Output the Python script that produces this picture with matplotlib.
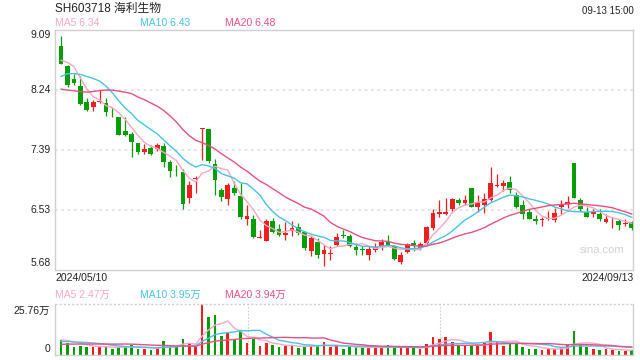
import numpy as np
import pandas as pd
import matplotlib
matplotlib.use('Agg')
import matplotlib.pyplot as plt

plt.rcParams['font.family'] = ['Liberation Sans', 'Noto Sans CJK SC', 'DejaVu Sans']

RED = '#f01e1e'
GREEN = '#089c08'
C_MA5 = '#f7a8c3'
C_MA10 = '#45c4e4'
C_MA20 = '#ea4f82'

# daily k-line, 2024/05/10 .. 2024/09/13
opens = [8.86, 8.58, 8.39, 8.29, 8.07, 8.00, 8.06, 8.05, 7.90, 7.85,
         7.65, 7.61, 7.48, 7.35, 7.41, 7.40, 7.44, 7.22, 7.09, 7.07,
         6.70, 6.98, 7.69, 7.68, 7.18, 6.81, 6.69, 6.85, 6.73, 6.41,
         6.41, 6.14, 6.09, 6.38, 6.26, 6.18, 6.23, 6.29, 6.22, 5.95,
         6.08, 5.91, 5.91, 6.03, 6.18, 6.17, 6.01, 5.97, 5.90, 5.97,
         6.02, 6.08, 6.02, 5.80, 5.93, 6.07, 5.99, 6.07, 6.28, 6.47,
         6.47, 6.54, 6.67, 6.63, 6.85, 6.58, 6.61, 6.68, 6.87, 6.88,
         6.93, 6.74, 6.60, 6.51, 6.41, 6.39, 6.40, 6.39, 6.58, 6.62,
         7.20, 6.67, 6.51, 6.48, 6.48, 6.36, 6.37, 6.37, 6.33, 6.36]
closes = [8.61, 8.31, 8.34, 8.04, 7.96, 8.07, 8.08, 7.93, 7.89, 7.60,
          7.60, 7.50, 7.36, 7.40, 7.33, 7.45, 7.22, 7.09, 7.08, 6.62,
          6.89, 6.99, 7.70, 7.23, 6.96, 6.72, 6.89, 6.77, 6.43, 6.45,
          6.15, 6.15, 6.37, 6.22, 6.18, 6.21, 6.28, 6.21, 5.99, 6.13,
          5.90, 5.96, 5.92, 6.15, 6.17, 6.02, 5.96, 5.96, 5.98, 6.01,
          6.08, 6.04, 5.84, 5.89, 6.05, 6.02, 6.05, 6.29, 6.49, 6.50,
          6.51, 6.69, 6.63, 6.68, 6.58, 6.65, 6.69, 6.92, 6.88, 6.92,
          6.81, 6.58, 6.47, 6.41, 6.37, 6.40, 6.41, 6.49, 6.62, 6.65,
          6.70, 6.54, 6.43, 6.50, 6.40, 6.40, 6.38, 6.32, 6.34, 6.28]
highs = [9.01, 8.59, 8.46, 8.43, 8.13, 8.09, 8.24, 8.12, 7.98, 7.86,
         7.86, 7.64, 7.49, 7.47, 7.45, 7.49, 7.49, 7.24, 7.17, 7.11,
         6.95, 7.01, 7.70, 7.68, 7.26, 6.85, 6.92, 6.94, 6.92, 6.60,
         6.46, 6.25, 6.41, 6.42, 6.33, 6.36, 6.37, 6.35, 6.24, 6.17,
         6.14, 6.04, 6.02, 6.20, 6.25, 6.19, 6.07, 6.02, 6.02, 6.07,
         6.12, 6.18, 6.03, 5.94, 6.07, 6.11, 6.08, 6.30, 6.54, 6.68,
         6.71, 6.70, 6.70, 6.75, 6.85, 6.74, 6.78, 7.14, 7.05, 6.96,
         7.02, 6.79, 6.67, 6.54, 6.46, 6.44, 6.52, 6.56, 6.67, 6.73,
         7.20, 6.70, 6.58, 6.55, 6.54, 6.48, 6.44, 6.41, 6.41, 6.37]
lows = [8.60, 8.28, 8.31, 8.03, 7.94, 7.94, 8.05, 7.87, 7.85, 7.60,
        7.59, 7.29, 7.33, 7.33, 7.32, 7.37, 7.14, 7.00, 7.02, 6.54,
        6.63, 6.78, 7.25, 7.20, 6.75, 6.66, 6.61, 6.75, 6.40, 6.32,
        6.13, 6.13, 6.09, 6.20, 6.17, 6.10, 6.16, 6.18, 5.96, 5.88,
        5.85, 5.74, 5.82, 6.02, 6.14, 6.00, 5.90, 5.90, 5.82, 5.93,
        5.97, 6.03, 5.82, 5.76, 5.92, 5.95, 5.96, 6.05, 6.25, 6.43,
        6.46, 6.52, 6.61, 6.60, 6.58, 6.50, 6.49, 6.66, 6.86, 6.80,
        6.78, 6.56, 6.41, 6.40, 6.33, 6.30, 6.39, 6.36, 6.47, 6.56,
        6.70, 6.52, 6.43, 6.43, 6.37, 6.35, 6.28, 6.25, 6.30, 6.25]
# closes of the 19 sessions before the window
prev_closes = [8.60, 8.50, 8.30, 8.10, 7.90, 7.80, 7.80, 7.90, 7.90, 7.90,
               7.91, 8.34, 8.14, 8.26, 8.35, 8.46, 8.64, 8.84, 8.75]

# volume, 万
volumes = [7.6, 5.9, 4.1, 4.6, 4.1, 4.1, 4.2, 4.1, 3.1, 4.2,
           4.2, 4.9, 3.1, 3.1, 2.5, 3.4, 7.1, 4.6, 4.2, 8.1,
           5.9, 4.2, 25.76, 19.3, 20.3, 9.7, 11.0, 7.6, 11.9, 6.1,
           8.1, 4.6, 6.1, 5.1, 3.9, 4.6, 4.7, 3.7, 4.7, 4.7,
           4.7, 6.8, 4.1, 4.7, 3.1, 4.1, 4.1, 3.7, 3.7, 3.7,
           3.7, 5.1, 3.7, 3.7, 3.7, 3.7, 3.1, 5.6, 9.2, 8.1,
           9.2, 6.8, 4.7, 4.7, 4.7, 4.7, 5.9, 11.7, 6.8, 4.7,
           5.9, 5.9, 3.9, 3.2, 3.2, 2.6, 3.2, 2.8, 3.8, 5.2,
           12.2, 5.5, 4.0, 2.8, 2.7, 3.1, 2.5, 2.2, 2.2, 2.3]
prev_volumes = [3.8, 4.2, 3.6, 4.4, 4.0, 3.9, 4.3, 4.1, 3.7, 4.0,
                5.8, 6.2, 6.0, 5.7, 6.3, 7.4, 7.8, 7.5, 7.7]

ma_labels = ['MA5 6.34', 'MA10 6.43', 'MA20 6.48']
vol_labels = ['MA5 2.47万', 'MA10 3.95万', 'MA20 3.94万']
price_ticks = [9.09, 8.24, 7.39, 6.53, 5.68]

o = np.array(opens)
c = np.array(closes)
h = np.array(highs)
l = np.array(lows)
v = np.array(volumes)
n = len(c)
x = np.arange(n)

cs = pd.Series(prev_closes + closes)
vs = pd.Series(prev_volumes + volumes)
k = len(prev_closes)
ma = {w: cs.rolling(w).mean().values[k:] for w in (5, 10, 20)}
vma = {w: vs.rolling(w).mean().values[k:] for w in (5, 10, 20)}

colors = np.where(c >= o, RED, GREEN)

W, H = 640, 360
fig = plt.figure(figsize=(6.4, 3.6), dpi=100)
ax = fig.add_axes([55 / W, 1 - 270 / H, 578 / W, 240 / H])
axv = fig.add_axes([55 / W, 1 - 355 / H, 578 / W, 51 / H])

xlim = (-0.95, 89.2)

# price panel
ax.vlines(x, l, h, colors=colors, lw=0.9, zorder=2)
ax.bar(x, np.maximum(np.abs(c - o), 0.012), bottom=np.minimum(o, c),
       width=0.75, color=colors, zorder=3)
ax.plot(x, ma[5], color=C_MA5, lw=1.0, zorder=4)
ax.plot(x, ma[10], color=C_MA10, lw=1.0, zorder=4)
ax.plot(x, ma[20], color=C_MA20, lw=1.0, zorder=4)
for t in price_ticks[1:-1]:
    ax.axhline(t, color='#e2e2e2', lw=1.3, ls=(0, (1.5, 2)), zorder=1)
ax.set_xlim(*xlim)
ax.set_ylim(5.68, 9.09)
ax.set_xticks([])
ax.set_yticks([])
for s in ax.spines.values():
    s.set_color('#d0d0d0')
    s.set_linewidth(1.0)
ax.text(0.985, 0.085, 'sina.com', transform=ax.transAxes, ha='right',
        va='center', fontsize=8, color='#d2d2d2')

# volume panel
axv.bar(x, v, width=0.42, color=colors, zorder=2)
axv.plot(x, vma[5], color=C_MA5, lw=1.0, zorder=3)
axv.plot(x, vma[10], color=C_MA10, lw=1.0, zorder=3)
axv.plot(x, vma[20], color=C_MA20, lw=1.0, zorder=3)
axv.set_xlim(*xlim)
axv.set_ylim(0, 25.76)
axv.set_xticks([])
axv.set_yticks([])
for s in axv.spines.values():
    s.set_color('#d0d0d0')
    s.set_linewidth(1.0)
axv.spines['top'].set_visible(False)
axv.axhline(25.76, color='#cfcfcf', lw=1.0, ls=(0, (1.5, 1.5)), clip_on=False)
for f in (1 / 3, 2 / 3):
    axv.axvline(xlim[0] + f * (xlim[1] - xlim[0]), color='#cfcfcf', lw=0.8,
                ls=(0, (1.5, 1.5)), zorder=1)


def ftext(px, py, s, **kw):
    fig.text(px / W, 1 - py / H, s, va='center', **kw)


ftext(55, 9, 'SH603718 海利生物', fontsize=8.5, color='#222222')
ftext(634, 11, '09-13 15:00', fontsize=7, color='#222222', ha='right')
for px, s, col in zip((55, 140, 225), ma_labels, (C_MA5, C_MA10, C_MA20)):
    ftext(px, 23.5, s, fontsize=7.5, color=col)
for px, s, col in zip((55, 140, 225), vol_labels, (C_MA5, C_MA10, C_MA20)):
    ftext(px, 294.5, s, fontsize=7.5, color=col)
for py, t in zip((35, 90, 150, 210, 263), price_ticks):
    ftext(51, py, f'{t:.2f}', fontsize=7.5, color='#222222', ha='right')
ftext(55, 278, '2024/05/10', fontsize=7.5, color='#222222')
ftext(634, 278, '2024/09/13', fontsize=7.5, color='#222222', ha='right')
ftext(50, 311, '25.76万', fontsize=7.5, color='#222222', ha='right')
ftext(50, 348.5, '0', fontsize=7.5, color='#222222', ha='right')

fig.savefig('out.png', dpi=100)
